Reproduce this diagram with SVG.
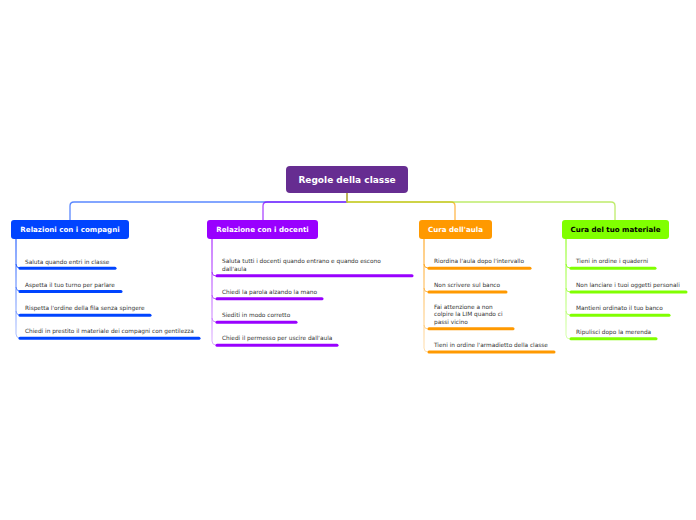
<svg xmlns="http://www.w3.org/2000/svg" width="696" height="520" viewBox="0 0 696 520">
<style>
.root{fill:#662d91}
.rt{font-family:"DejaVu Sans",Verdana,sans-serif;font-weight:bold;font-size:9px;fill:#fff;text-anchor:middle}
.nt{font-family:"DejaVu Sans",Verdana,sans-serif;font-weight:bold;font-size:7.1px;fill:#fff;text-anchor:middle}
.ct{font-family:"DejaVu Sans",Verdana,sans-serif;font-size:5.8px;fill:#333}
.bar{stroke-width:3;stroke-linecap:round;fill:none}
.br{fill:none;stroke-width:1}
.con{fill:none;stroke-width:1.3}
</style>
<defs>
<linearGradient id="gb" gradientUnits="userSpaceOnUse" x1="0" y1="239" x2="0" y2="338"><stop offset="0" stop-color="#0044ff"/><stop offset="1" stop-color="#b3c4ff"/></linearGradient>
<linearGradient id="gp" gradientUnits="userSpaceOnUse" x1="0" y1="239" x2="0" y2="345"><stop offset="0" stop-color="#9900ff"/><stop offset="1" stop-color="#ddb3ff"/></linearGradient>
<linearGradient id="go" gradientUnits="userSpaceOnUse" x1="0" y1="239" x2="0" y2="352"><stop offset="0" stop-color="#ff9900"/><stop offset="1" stop-color="#ffe0b3"/></linearGradient>
<linearGradient id="gg" gradientUnits="userSpaceOnUse" x1="0" y1="239" x2="0" y2="339"><stop offset="0" stop-color="#80ff00"/><stop offset="1" stop-color="#d9ffb3"/></linearGradient>
</defs>

<g id="connectors">
<path class="con" stroke="#5a88ff" d="M347,193 V202 H74 Q70,202 70,206 V220"/>
<path class="con" stroke="#8a00ff" stroke-opacity="0.72" d="M347,193 V202 H267 Q263,202 263,206 V220"/>
<path class="con" stroke="#ffb84d" d="M347,193 V202 H451 Q455,202 455,206 V220"/>
<path class="con" stroke="#96e010" stroke-opacity="0.62" d="M347,193 V202 H611 Q615,202 615,206 V220"/>
<!-- branch lines -->
<path class="br" stroke="url(#gb)" d="M16,239 V334 Q16,338 20,338 M16,264 Q16,268 20,268 M16,287 Q16,291 20,291 M16,311 Q16,315 20,315"/>
<path class="br" stroke="url(#gp)" d="M212,239 V341 Q212,345 216,345 M212,272 Q212,276 216,276 M212,295 Q212,299 216,299 M212,318 Q212,322 216,322"/>
<path class="br" stroke="url(#go)" d="M424,239 V348 Q424,352 428,352 M424,264 Q424,268 428,268 M424,288 Q424,292 428,292 M424,325 Q424,329 428,329"/>
<path class="br" stroke="url(#gg)" d="M566,239 V335 Q566,339 570,339 M566,264 Q566,268 570,268 M566,288 Q566,292 570,292 M566,311 Q566,315 570,315"/>
</g>

<g id="root">
<rect class="root" x="286" y="166" width="122" height="27" rx="4"/>
<text class="rt" x="347" y="183">Regole della classe</text>
</g>

<g id="n-compagni">
<rect x="11" y="220" width="118" height="19" rx="3" fill="#0044ff"/>
<text class="nt" x="70" y="232">Relazioni con i compagni</text>
</g>
<g id="c-b1"><text class="ct" x="25" y="263.5">Saluta quando entri in classe</text><line class="bar" stroke="#0044ff" x1="20" y1="268.3" x2="115" y2="268.3"/></g>
<g id="c-b2"><text class="ct" x="25" y="286.5">Aspetta il tuo turno per parlare</text><line class="bar" stroke="#0044ff" x1="20" y1="291.5" x2="121" y2="291.5"/></g>
<g id="c-b3"><text class="ct" x="25" y="310.3">Rispetta l'ordine della fila senza spingere</text><line class="bar" stroke="#0044ff" x1="20" y1="315.3" x2="150" y2="315.3"/></g>
<g id="c-b4"><text class="ct" x="25" y="333.3">Chiedi in prestito il materiale dei compagni con gentilezza</text><line class="bar" stroke="#0044ff" x1="20" y1="338.3" x2="199" y2="338.3"/></g>

<g id="n-docenti">
<rect x="207" y="220" width="111" height="19" rx="3" fill="#9900ff"/>
<text class="nt" x="262.5" y="232">Relazione con i docenti</text>
</g>
<g id="c-p1"><text class="ct" x="222" y="263">Saluta tutti i docenti quando entrano e quando escono</text><text class="ct" x="222" y="270.5">dall'aula</text><line class="bar" stroke="#9900ff" x1="217" y1="275.7" x2="412" y2="275.7"/></g>
<g id="c-p2"><text class="ct" x="222" y="293.7">Chiedi la parola alzando la mano</text><line class="bar" stroke="#9900ff" x1="217" y1="298.7" x2="322" y2="298.7"/></g>
<g id="c-p3"><text class="ct" x="222" y="317.3">Siediti in modo corretto</text><line class="bar" stroke="#9900ff" x1="217" y1="322.3" x2="296" y2="322.3"/></g>
<g id="c-p4"><text class="ct" x="222" y="340.3">Chiedi il permesso per uscire dall'aula</text><line class="bar" stroke="#9900ff" x1="217" y1="345.3" x2="337" y2="345.3"/></g>

<g id="n-aula">
<rect x="419" y="220" width="73" height="19" rx="3" fill="#ff9900"/>
<text class="nt" x="455.5" y="232">Cura dell'aula</text>
</g>
<g id="c-o1"><text class="ct" x="434" y="263.3">Riordina l'aula dopo l'intervallo</text><line class="bar" stroke="#ff9900" x1="429" y1="268.3" x2="530" y2="268.3"/></g>
<g id="c-o2"><text class="ct" x="434" y="287">Non scrivere sul banco</text><line class="bar" stroke="#ff9900" x1="429" y1="292" x2="506" y2="292"/></g>
<g id="c-o3"><text class="ct" x="434" y="308.7">Fai attenzione a non</text><text class="ct" x="434" y="316.2">colpire la LIM quando ci</text><text class="ct" x="434" y="323.7">passi vicino</text><line class="bar" stroke="#ff9900" x1="429" y1="328.7" x2="513" y2="328.7"/></g>
<g id="c-o4"><text class="ct" x="434" y="347">Tieni in ordine l'armadietto della classe</text><line class="bar" stroke="#ff9900" x1="429" y1="352" x2="554" y2="352"/></g>

<g id="n-materiale">
<rect x="562" y="220" width="107" height="19" rx="3" fill="#80ff00"/>
<text class="nt" x="615.5" y="232" style="fill:#000">Cura del tuo materiale</text>
</g>
<g id="c-g1"><text class="ct" x="576" y="263.3">Tieni in ordine i quaderni</text><line class="bar" stroke="#80ff00" x1="571" y1="268.3" x2="655" y2="268.3"/></g>
<g id="c-g2"><text class="ct" x="576" y="287">Non lanciare i tuoi oggetti personali</text><line class="bar" stroke="#80ff00" x1="571" y1="292" x2="686" y2="292"/></g>
<g id="c-g3"><text class="ct" x="576" y="310.3">Mantieni ordinato il tuo banco</text><line class="bar" stroke="#80ff00" x1="571" y1="315.3" x2="669" y2="315.3"/></g>
<g id="c-g4"><text class="ct" x="576" y="333.7">Ripulisci dopo la merenda</text><line class="bar" stroke="#80ff00" x1="571" y1="338.7" x2="656" y2="338.7"/></g>
</svg>
